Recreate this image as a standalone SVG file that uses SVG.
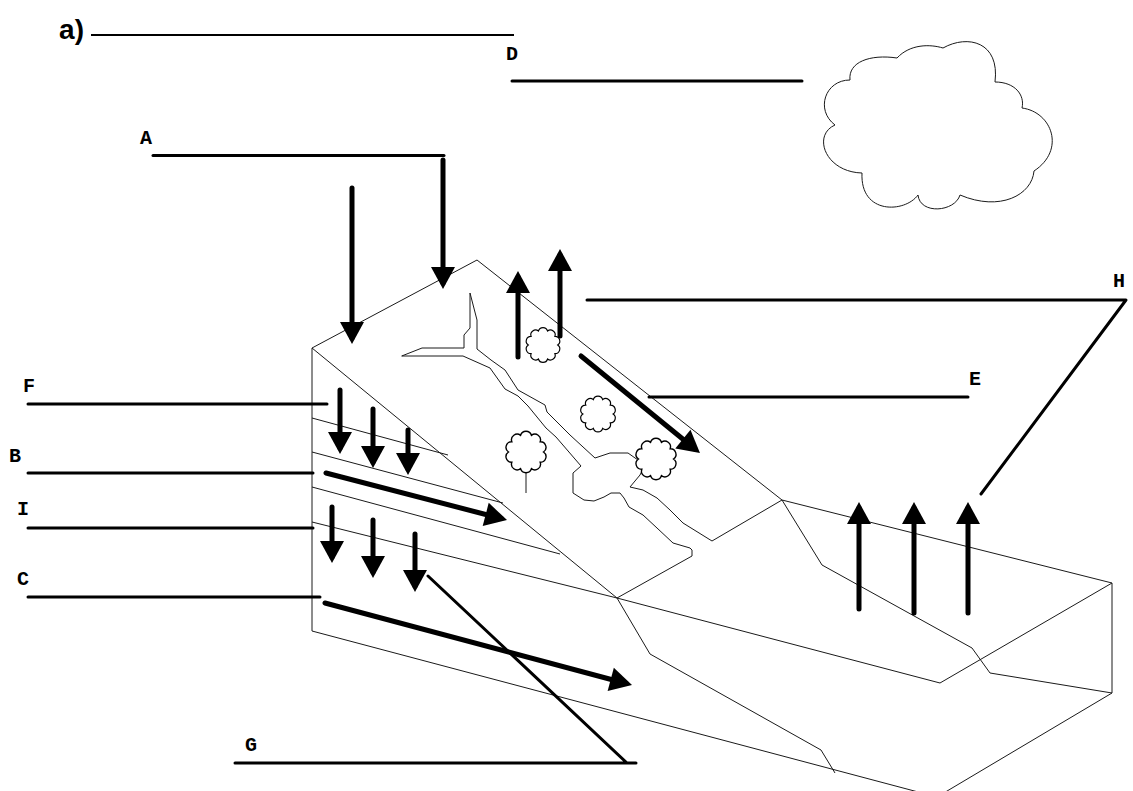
<svg xmlns="http://www.w3.org/2000/svg" width="1133" height="791" viewBox="0 0 1133 791">
<style>
.edge{fill:none;stroke:#1a1a1a;stroke-width:1;stroke-linejoin:miter}
.lead{fill:none;stroke:#000;stroke-width:3;stroke-linecap:round;stroke-linejoin:round}
.arr{fill:none;stroke:#000;stroke-width:5;stroke-linecap:round;marker-end:url(#head)}
.lbl{font-family:"Liberation Mono","Courier New",monospace;font-weight:bold;font-size:20px;fill:#000;text-anchor:middle}
.tree{fill:#fff;stroke:#000;stroke-width:1.1}
</style>
<defs>
<marker id="head" markerUnits="userSpaceOnUse" markerWidth="22" markerHeight="24" refX="16" refY="12" orient="auto" overflow="visible">
<path d="M0,0 L22,12 L0,24 Z" fill="#000"/>
</marker>
<path id="treeShape" d="M14,0 A4.5,4.5 0 0 1 11.33,8.23 A4.5,4.5 0 0 1 4.33,13.31 A4.5,4.5 0 0 1 -4.33,13.31 A4.5,4.5 0 0 1 -11.33,8.23 A4.5,4.5 0 0 1 -14,0 A4.5,4.5 0 0 1 -11.33,-8.23 A4.5,4.5 0 0 1 -4.33,-13.31 A4.5,4.5 0 0 1 4.33,-13.31 A4.5,4.5 0 0 1 11.33,-8.23 A4.5,4.5 0 0 1 14,0 Z"/>
</defs>
<rect width="1133" height="791" fill="#fff"/>

<g id="block">
<path class="edge" d="M312,631 L312,348 L477,260 L782,500"/>
<path class="edge" d="M312,348 L617,598"/>
<path class="edge" d="M312,418 L448,455"/>
<path class="edge" d="M312,452 L503,503"/>
<path class="edge" d="M312,487 L560,554"/>
<path class="edge" d="M312,522 L617,598 L940,683 L1112,583"/>
<path class="edge" d="M782,500 L1112,583 L1112,693"/>
<path class="edge" d="M782,500 L822,565 L972,648 L990,673 L1112,693"/>
<path class="edge" d="M617,598 L650,654 L821,750 L835,773"/>
<path class="edge" d="M312,631 L937,797 L1112,693"/>
</g>

<g id="river">
<path class="edge" d="M401.7,356 L463,356 L490,368 L505,389 L518,396 L528,406 L546,428 L556,437 L581,466 L573,473 L573,493 L584,500 L594,501 L604,497 L611,493 L620,493 L624,498 L629,507 L643,515 L657,528 L673,543 L690,548 L692,550 L692,556 L617,598"/>
<path class="edge" d="M401.7,356 L422,348 L464,348 L464,335 L470,328 L470,293 L477,320 L477,349 L491,360 L505,370 L518,390 L545,405 L547,412 L570,435 L595,458 L610,453 L628,453 L645,465 L640,475 L630,487 L643,490 L657,498 L670,510 L683,523 L712,541 L782,500"/>
</g>

<g id="cloud">
<path class="edge" stroke-width="1.2" d="M850,80 C848,62 870,54 897,58 C910,44 930,44 943,48 C968,34 1000,42 995,82 C1015,82 1025,95 1022,108 C1052,112 1066,150 1034,171 C1032,195 1000,212 960,195 C955,212 920,215 918,195 C905,213 860,215 862,173 C825,172 812,135 835,125 C815,110 825,80 850,80 Z"/>
</g>

<g id="trees">
<line class="edge" x1="526" y1="465" x2="526" y2="493"/>
<use href="#treeShape" class="tree" transform="translate(543,345) scale(1.05)"/>
<use href="#treeShape" class="tree" transform="translate(598,414) scale(1.08)"/>
<use href="#treeShape" class="tree" transform="translate(526,452) scale(1.25)"/>
<use href="#treeShape" class="tree" transform="translate(656,459) scale(1.25)"/>
</g>

<g id="arrows">
<line class="arr" x1="352" y1="188" x2="352" y2="338"/>
<line class="arr" x1="443" y1="160" x2="443" y2="283"/>
<line class="arr" x1="518" y1="357" x2="518" y2="277"/>
<line class="arr" x1="560" y1="336" x2="560" y2="255"/>
<line class="arr" x1="581" y1="356" x2="695.3" y2="449.2"/>
<line class="arr" x1="340" y1="390" x2="340" y2="448"/>
<line class="arr" x1="373" y1="409" x2="373" y2="462"/>
<line class="arr" x1="408" y1="430" x2="408" y2="469"/>
<line class="arr" x1="326" y1="473" x2="501.2" y2="518.5"/>
<line class="arr" x1="332" y1="507" x2="332" y2="557"/>
<line class="arr" x1="373" y1="520" x2="373" y2="572"/>
<line class="arr" x1="415" y1="534" x2="415" y2="586"/>
<line class="arr" x1="325" y1="603" x2="626.2" y2="683.5"/>
<line class="arr" x1="859" y1="609" x2="859" y2="508"/>
<line class="arr" x1="914" y1="613" x2="914" y2="508"/>
<line class="arr" x1="968" y1="613" x2="968" y2="508"/>
</g>

<g id="title">
<text x="84" y="39" font-family="'Liberation Sans',Arial,sans-serif" font-weight="bold" font-size="28" text-anchor="end">a)</text>
<line x1="91" y1="35" x2="514" y2="35" stroke="#000" stroke-width="2"/>
</g>
<g id="label-D"><text class="lbl" x="512" y="60">D</text><path class="lead" d="M512,81 L802,81"/></g>
<g id="label-A"><text class="lbl" x="146" y="144">A</text><path class="lead" d="M153,155.5 L444,155.5"/></g>
<g id="label-F"><text class="lbl" x="29" y="392">F</text><path class="lead" d="M28,404 L327,404"/></g>
<g id="label-B"><text class="lbl" x="15" y="462">B</text><path class="lead" d="M28,473 L313,473"/></g>
<g id="label-I"><text class="lbl" x="23" y="515">I</text><path class="lead" d="M28,528 L313,528"/></g>
<g id="label-C"><text class="lbl" x="23" y="585">C</text><path class="lead" d="M28,597 L320,597"/></g>
<g id="label-G"><text class="lbl" x="251" y="751">G</text><path class="lead" d="M235,763 L636,763 M627,763 L428,576"/></g>
<g id="label-E"><text class="lbl" x="975" y="385">E</text><path class="lead" d="M649,397 L968,397"/></g>
<g id="label-H"><text class="lbl" x="1119" y="287">H</text><path class="lead" d="M587,300 L1126,300 L981,494"/></g>
</svg>
